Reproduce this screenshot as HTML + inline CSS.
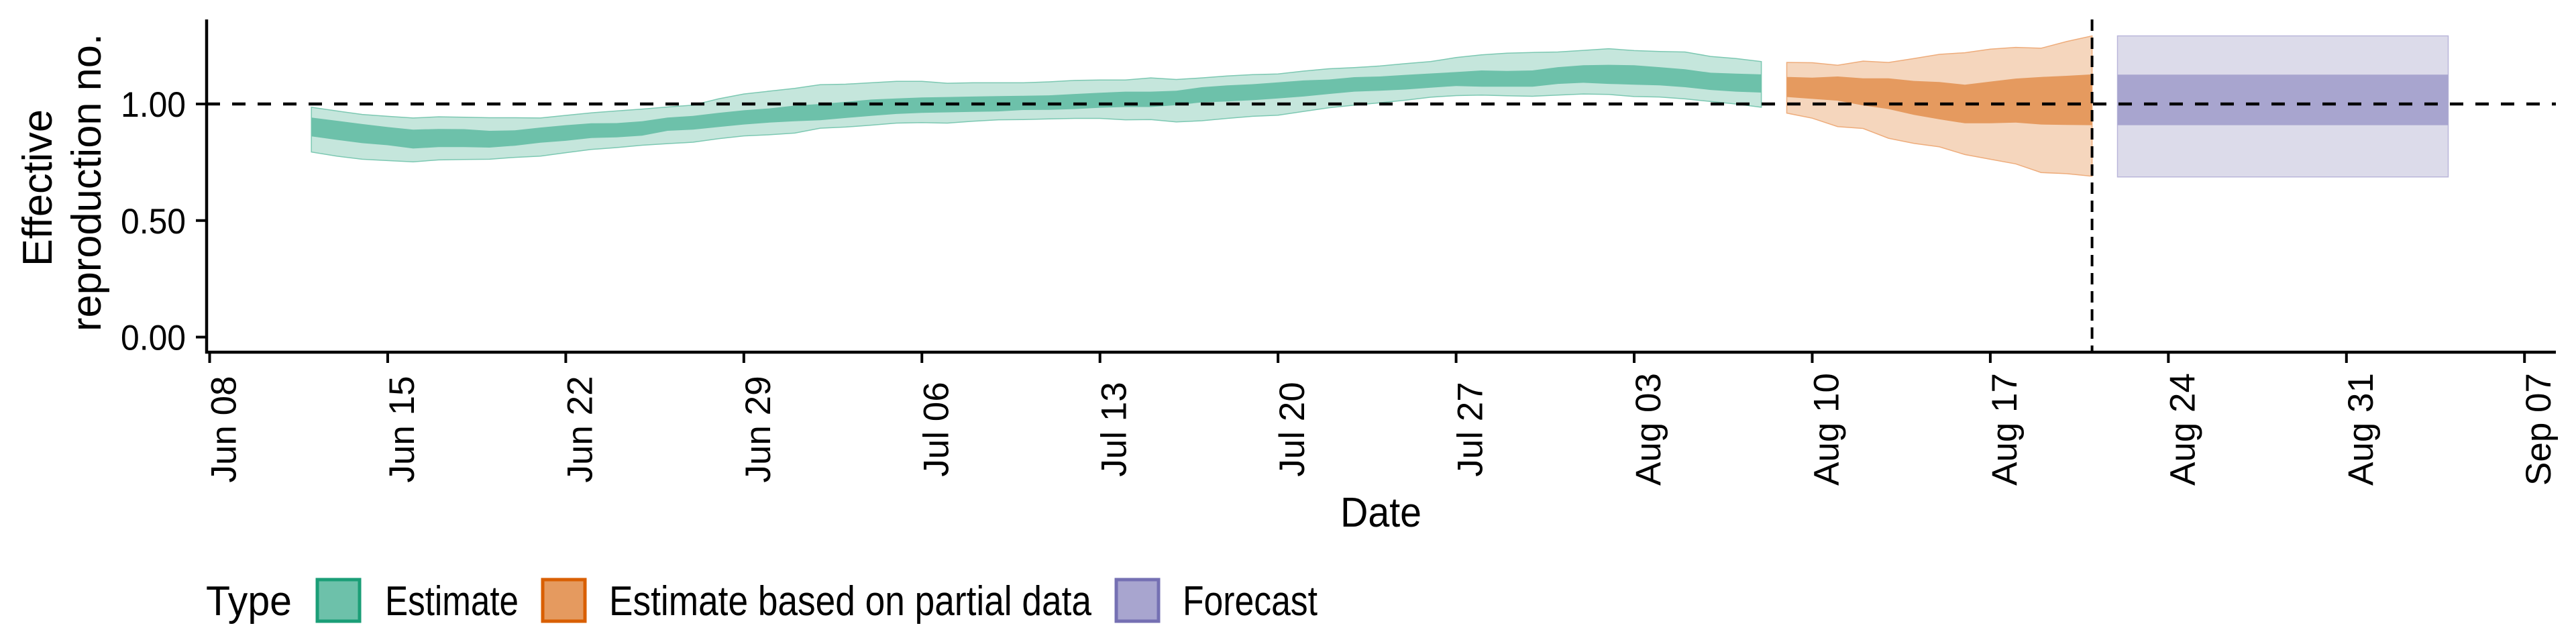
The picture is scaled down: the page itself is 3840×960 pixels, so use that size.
<!DOCTYPE html>
<html><head><meta charset="utf-8"><style>
html,body{margin:0;padding:0;background:#fff;}
svg{display:block;font-family:"Liberation Sans",Arial,sans-serif;}
</style></head><body>
<svg id="chart" width="3840" height="960" viewBox="0 0 3840 960" xmlns="http://www.w3.org/2000/svg">
<g id="bands"></g>
<g id="axes"></g>
</svg>
<script>
// ---- data ----
const estStart = 4; // day index from Jun 08
const estUpper90 = [0.986,0.970,0.955,0.947,0.940,0.945,0.943,0.941,0.941,0.940,0.951,0.962,0.970,0.978,0.987,0.995,1.022,1.043,1.055,1.067,1.083,1.085,1.091,1.097,1.097,1.089,1.091,1.091,1.091,1.095,1.101,1.103,1.103,1.112,1.105,1.112,1.120,1.126,1.129,1.141,1.151,1.156,1.163,1.173,1.182,1.199,1.211,1.218,1.221,1.223,1.230,1.237,1.229,1.225,1.223,1.204,1.195,1.182];
const estUpper50 = [0.942,0.928,0.914,0.901,0.890,0.893,0.892,0.885,0.887,0.899,0.909,0.917,0.918,0.926,0.942,0.949,0.962,0.973,0.981,0.993,1.000,1.009,1.019,1.024,1.028,1.030,1.032,1.034,1.035,1.037,1.043,1.048,1.053,1.053,1.057,1.072,1.080,1.085,1.093,1.101,1.105,1.115,1.118,1.125,1.131,1.137,1.144,1.142,1.144,1.158,1.166,1.168,1.166,1.158,1.149,1.134,1.130,1.127];
const estLower50 = [0.861,0.846,0.832,0.823,0.809,0.815,0.815,0.813,0.821,0.834,0.842,0.854,0.857,0.864,0.885,0.890,0.901,0.912,0.920,0.926,0.930,0.940,0.949,0.957,0.962,0.964,0.966,0.968,0.974,0.975,0.978,0.984,0.987,0.987,0.995,1.007,1.011,1.016,1.024,1.032,1.043,1.053,1.057,1.062,1.070,1.077,1.074,1.074,1.074,1.086,1.091,1.086,1.083,1.080,1.072,1.060,1.053,1.049];
const estLower90 = [0.794,0.776,0.763,0.757,0.752,0.760,0.762,0.763,0.771,0.776,0.791,0.805,0.813,0.823,0.830,0.836,0.851,0.863,0.868,0.875,0.896,0.901,0.909,0.918,0.920,0.918,0.926,0.932,0.933,0.936,0.938,0.938,0.932,0.933,0.923,0.928,0.938,0.947,0.952,0.968,0.984,0.995,1.005,1.016,1.029,1.036,1.038,1.035,1.033,1.038,1.043,1.041,1.032,1.030,1.022,1.011,1.000,0.986];
const partStart = 62;
const partUpper90 = [1.178,1.177,1.166,1.184,1.178,1.195,1.213,1.220,1.235,1.243,1.239,1.268,1.292];
const partUpper50 = [1.116,1.113,1.118,1.110,1.110,1.099,1.094,1.083,1.096,1.109,1.116,1.121,1.127];
const partLower50 = [1.030,1.022,1.014,0.994,0.978,0.953,0.934,0.917,0.917,0.920,0.912,0.910,0.909];
const partLower90 = [0.961,0.939,0.903,0.895,0.853,0.831,0.816,0.783,0.763,0.743,0.706,0.701,0.690];
const fcStart = 75;
const fcUpper90 = [1.292,1.292,1.292,1.292,1.292,1.292,1.292,1.292,1.292,1.292,1.292,1.292,1.292,1.292];
const fcUpper50 = [1.126,1.126,1.126,1.126,1.126,1.126,1.126,1.126,1.126,1.126,1.126,1.126,1.126,1.126];
const fcLower50 = [0.909,0.909,0.909,0.909,0.909,0.909,0.909,0.909,0.909,0.909,0.909,0.909,0.909,0.909];
const fcLower90 = [0.687,0.687,0.687,0.687,0.687,0.687,0.687,0.687,0.687,0.687,0.687,0.687,0.687,0.687];
const xTickDays = [0,7,14,21,28,35,42,49,56,63,70,77,84,91];
const xTickLabels = ["Jun 08","Jun 15","Jun 22","Jun 29","Jul 06","Jul 13","Jul 20","Jul 27","Aug 03","Aug 10","Aug 17","Aug 24","Aug 31","Sep 07"];
const yTicks = [0,0.5,1];
const yTickLabels = ["0.00","0.50","1.00"];
const refValue = 1;
const cutoffDay = 74;

// ---- scales ----
const X0 = 312.5, PXD = 37.92, Y0 = 502.5, PXV = 347.5;
function xs(d){ return X0 + PXD*d; }
function ys(v){ return Y0 - PXV*v; }
const NS = "http://www.w3.org/2000/svg";
function mk(tag, attrs, parent){
  const e = document.createElementNS(NS, tag);
  for (const k in attrs) e.setAttribute(k, attrs[k]);
  parent.appendChild(e); return e;
}
const bands = document.getElementById('bands');
const axes = document.getElementById('axes');

function ribbon(start, up, lo, fill, stroke, name){
  let pts = [];
  for (let i=0;i<up.length;i++) pts.push(xs(start+i).toFixed(1)+","+ys(up[i]).toFixed(1));
  for (let i=lo.length-1;i>=0;i--) pts.push(xs(start+i).toFixed(1)+","+ys(lo[i]).toFixed(1));
  const p = mk('polygon', {points: pts.join(' '), fill: fill, stroke: stroke, 'stroke-width': stroke==='none'?0:1.5}, bands);
  
  
}
ribbon(estStart, estUpper90, estLower90, '#c5e6dc', '#7cc8b2', 'estimate-90-band');
ribbon(estStart, estUpper50, estLower50, '#6dc1aa', 'none', 'estimate-50-band');
ribbon(partStart, partUpper90, partLower90, '#f5d6bd', '#eeac7b', 'partial-90-band');
ribbon(partStart, partUpper50, partLower50, '#e59a5f', 'none', 'partial-50-band');
ribbon(fcStart, fcUpper90, fcLower90, '#dcdbea', '#b9b6da', 'forecast-90-band');
ribbon(fcStart, fcUpper50, fcLower50, '#a8a5cf', 'none', 'forecast-50-band');

// reference lines
let hl = mk('line', {x1:308, x2:3810, y1:ys(refValue), y2:ys(refValue), stroke:'#000', 'stroke-width':4.5, 'stroke-dasharray':'20 18'}, axes);


let vl = mk('line', {x1:xs(cutoffDay), x2:xs(cutoffDay), y1:29, y2:525, stroke:'#000', 'stroke-width':4, 'stroke-dasharray':'17 10'}, axes);



// axes lines
let ya = mk('line', {x1:308, x2:308, y1:29, y2:527, stroke:'#000', 'stroke-width':4.5}, axes);


let xa = mk('line', {x1:306, x2:3810, y1:525, y2:525, stroke:'#000', 'stroke-width':4.5}, axes);



// y ticks
for (let i=0;i<yTicks.length;i++){
  const y = ys(yTicks[i]);
  const t = mk('line', {x1:292, x2:308, y1:y, y2:y, stroke:'#000', 'stroke-width':4}, axes);
  
  
  const l = mk('text', {x:277, y:y+19, 'text-anchor':'end', 'font-size':53, fill:'#000', textLength:97, lengthAdjust:'spacingAndGlyphs'}, axes);
  l.textContent = yTickLabels[i];
  
  
}
// x ticks
for (let i=0;i<xTickDays.length;i++){
  const x = xs(xTickDays[i]);
  const t = mk('line', {x1:x, x2:x, y1:525, y2:541, stroke:'#000', 'stroke-width':4}, axes);
  
  
  const l = mk('text', {x:0, y:0, 'text-anchor':'middle', 'font-size':53, fill:'#000', transform:'translate('+(x+39)+',640) rotate(-90)'}, axes);
  l.textContent = xTickLabels[i];
  
  
}
</script>
<svg style="position:absolute;left:0;top:0" width="3840" height="960" viewBox="0 0 3840 960" xmlns="http://www.w3.org/2000/svg">
<g font-family="Liberation Sans, Arial, sans-serif" fill="#000">
<text transform="translate(77,280) rotate(-90)" text-anchor="middle" font-size="62" textLength="234" lengthAdjust="spacingAndGlyphs">Effective</text>
<text transform="translate(150,272) rotate(-90)" text-anchor="middle" font-size="62" textLength="444" lengthAdjust="spacingAndGlyphs">reproduction no.</text>
<text x="1998" y="785" font-size="62" textLength="121" lengthAdjust="spacingAndGlyphs">Date</text>
<text x="307" y="917" font-size="62" textLength="128" lengthAdjust="spacingAndGlyphs">Type</text>
<rect x="473" y="864" width="63" height="62" fill="#6dc1aa" stroke="#1b9e77" stroke-width="5"/>
<text x="574" y="917" font-size="62" textLength="199" lengthAdjust="spacingAndGlyphs">Estimate</text>
<rect x="809" y="864" width="63" height="62" fill="#e59a5f" stroke="#d95f02" stroke-width="5"/>
<text x="908" y="917" font-size="62" textLength="719" lengthAdjust="spacingAndGlyphs">Estimate based on partial data</text>
<rect x="1664" y="864" width="63" height="62" fill="#a8a5cf" stroke="#7570b3" stroke-width="5"/>
<text x="1763" y="917" font-size="62" textLength="201" lengthAdjust="spacingAndGlyphs">Forecast</text>
</g>
</svg>
</body></html>
